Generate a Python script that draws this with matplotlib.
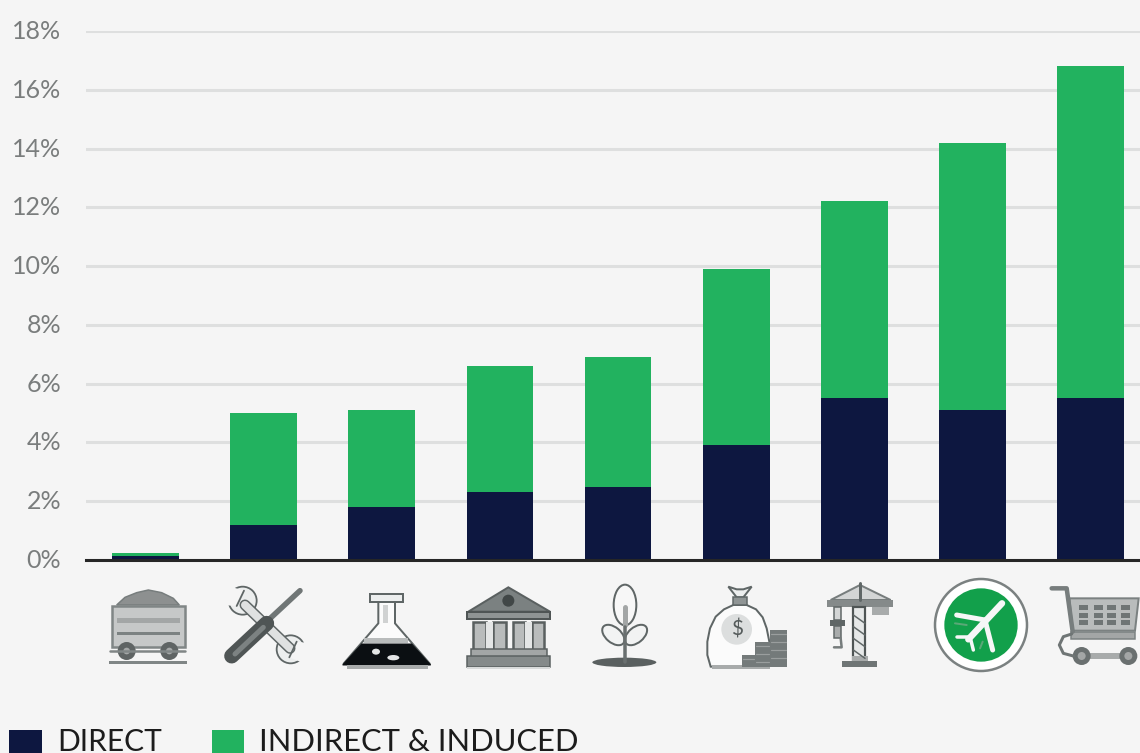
#!/usr/bin/env python3

import matplotlib
matplotlib.use("Agg")
import matplotlib.pyplot as plt
from matplotlib.patches import Circle, Ellipse, Polygon, Rectangle
from matplotlib.transforms import ScaledTranslation

WIDTH = 1140
HEIGHT = 753
BACKGROUND = "#f5f5f5"
NAVY = "#0d1740"
GREEN = "#22b25f"
DARK = "#5f6666"
MID = "#808686"
LIGHT = "#c6c8c8"

positions = [0, 1, 2, 3, 4, 5, 6, 7, 8]
direct = [0.15, 1.2, 1.8, 2.3, 2.5, 3.9, 5.5, 5.1, 5.5]
indirect_induced = [0.1, 3.8, 3.3, 4.3, 4.4, 6.0, 6.7, 9.1, 11.3]
tick_values = [0, 2, 4, 6, 8, 10, 12, 14, 16, 18]
tick_labels = ["0%", "2%", "4%", "6%", "8%", "10%", "12%", "14%", "16%", "18%"]
legend_labels = ["DIRECT", "INDIRECT & INDUCED"]


def zoomed(ox, pts):
    return [(ox + x / 3, 570 + y / 3) for x, y in pts]


def px_lw(px):
    return px * 72 / 100


def poly(ov, ox, pts, fc, ec=DARK, lw=1.5):
    ov.add_patch(Polygon(zoomed(ox, pts), closed=True, fc=fc, ec=ec, lw=px_lw(lw)))


def box(ov, ox, x0, y0, x1, y1, fc, ec="none", lw=1.5):
    poly(ov, ox, [(x0, y0), (x1, y0), (x1, y1), (x0, y1)], fc, ec, lw)


def line(ov, ox, pts, color=DARK, lw=2.0):
    xs, ys = zip(*zoomed(ox, pts))
    ov.plot(xs, ys, color=color, lw=px_lw(lw), solid_capstyle="round", solid_joinstyle="round")


def circle(ov, ox, x, y, r, fc, ec="none", lw=1.5):
    (cx, cy), = zoomed(ox, [(x, y)])
    ov.add_patch(Circle((cx, cy), r / 3, fc=fc, ec=ec, lw=px_lw(lw)))


def ellipse(ov, ox, x, y, w, h, angle, fc, ec=DARK, lw=2.0):
    (cx, cy), = zoomed(ox, [(x, y)])
    ov.add_patch(Ellipse((cx, cy), w / 3, h / 3, angle=angle, fc=fc, ec=ec, lw=px_lw(lw)))


def draw_cart(ov):
    ox = 90
    poly(ov, ox, [(80, 105), (105, 82), (140, 68), (175, 60), (215, 68), (250, 85), (268, 105)], "#8d9090", "#777d7d")
    box(ov, ox, 65, 107, 285, 232, LIGHT, MID, 2.5)
    box(ov, ox, 80, 143, 270, 158, "#a3a6a6")
    box(ov, ox, 80, 186, 270, 195, "#7c8282")
    line(ov, ox, [(60, 243), (285, 243)], MID, 2.5)
    for x in (110, 238):
        circle(ov, ox, x, 243, 27, "#5f6464")
        circle(ov, ox, x, 243, 10, "#a5a8a8")
    box(ov, ox, 58, 272, 290, 283, MID)


def draw_tools(ov):
    ox = 90
    # wrench
    line(ov, ox, [(465, 105), (600, 235)], DARK, 11)
    line(ov, ox, [(465, 105), (600, 235)], "#dfe1e1", 8)
    circle(ov, ox, 458, 92, 42, "#eceeee", DARK, 1.8)
    circle(ov, ox, 602, 238, 42, "#eceeee", DARK, 1.8)
    poly(ov, ox, [(405, 45), (462, 62), (440, 108), (395, 105)], BACKGROUND, "none")
    poly(ov, ox, [(655, 285), (598, 262), (620, 215), (665, 220)], BACKGROUND, "none")
    line(ov, ox, [(462, 62), (440, 108)], DARK, 1.8)
    line(ov, ox, [(598, 262), (620, 215)], DARK, 1.8)
    # screwdriver
    line(ov, ox, [(630, 62), (530, 155)], "#707676", 5.5)
    line(ov, ox, [(530, 160), (425, 258)], "#4f5555", 15)
    line(ov, ox, [(520, 172), (435, 252)], "#7c8282", 5)


def draw_flask(ov):
    ox = 90
    poly(ov, ox, [(865, 95), (915, 95), (915, 160), (1020, 282), (760, 282), (865, 160)], "#fbfbfb", DARK, 2)
    box(ov, ox, 840, 72, 940, 96, "#eceeee", DARK, 2)
    box(ov, ox, 880, 105, 895, 160, "#d0d2d2")
    box(ov, ox, 822, 205, 955, 220, "#b9bcbc")
    poly(ov, ox, [(815, 222), (965, 222), (1022, 285), (758, 285)], "#0b0f12", "#0b0f12", 1)
    box(ov, ox, 770, 285, 1015, 298, "#a8abab")
    ellipse(ov, ox, 858, 245, 24, 18, 0, "#e4e6e6", "none")
    ellipse(ov, ox, 910, 263, 36, 16, 0, "#e4e6e6", "none")


def draw_bank(ov):
    ox = 450
    poly(ov, ox, [(55, 125), (175, 52), (300, 125)], "#7b8181", "#5a6060", 2)
    circle(ov, ox, 175, 92, 18, "#414747")
    box(ov, ox, 52, 125, 300, 148, "#8f9494", "#4f5555", 2)
    for x in (70, 130, 188, 245):
        box(ov, ox, x, 155, x + 38, 240, "#b9bcbc", "#5a6060", 2.5)
    box(ov, ox, 108, 155, 130, 240, "#e4e6e6")
    box(ov, ox, 226, 155, 245, 240, "#e4e6e6")
    box(ov, ox, 62, 238, 292, 260, "#a3a6a6", "#5a6060", 1.5)
    box(ov, ox, 52, 258, 300, 290, "#858a8a", "#5a6060", 1.5)
    box(ov, ox, 52, 290, 300, 298, "#d8dada")


def draw_plant(ov):
    ox = 450
    ellipse(ov, ox, 490, 195, 78, 46, 40, "#f2f3f3")
    ellipse(ov, ox, 558, 195, 78, 46, -40, "#f2f3f3")
    ellipse(ov, ox, 525, 105, 68, 122, 0, "#f7f7f7")
    line(ov, ox, [(525, 110), (525, 165)], "#a3a6a6", 5)
    line(ov, ox, [(525, 170), (525, 275)], "#6a7070", 3.5)
    ellipse(ov, ox, 523, 277, 192, 28, 0, "#5a6060", "none")


def draw_money(ov):
    ox = 450
    poly(ov, ox, [(782, 290), (772, 255), (772, 215), (780, 175), (797, 140), (822, 118), (850, 105),
                  (890, 105), (918, 118), (938, 142), (950, 175), (958, 215), (962, 288)],
         "#fbfbfb", DARK, 2)
    box(ov, ox, 785, 285, 960, 297, "#a8abab")
    poly(ov, ox, [(835, 50), (860, 58), (880, 58), (905, 50), (880, 82), (860, 82)], "#eceeee", DARK, 2)
    box(ov, ox, 848, 82, 892, 106, "#8f9494", DARK, 1.5)
    circle(ov, ox, 860, 178, 46, "#dcdede")
    cx, cy = zoomed(ox, [(860, 178)])[0]
    ov.text(cx, cy, "$", color="#555b5b", fontsize=15, ha="center", va="center", family="Lato")
    for x0, y0, x1 in ((875, 255, 915), (915, 215, 960), (960, 180, 1012)):
        box(ov, ox, x0, y0, x1, 290, "#747a7a")
        y = y0 + 12
        while y < 285:
            line(ov, ox, [(x0 + 4, y), (x1 - 4, y)], "#9a9e9e", 1.2)
            y += 24


def draw_crane(ov):
    ox = 800
    poly(ov, ox, [(180, 45), (92, 90), (272, 90)], "#d3d5d5", "#777d7d", 2)
    line(ov, ox, [(180, 40), (180, 90)], "#5f6666", 3)
    box(ov, ox, 82, 90, 280, 110, "#858a8a")
    box(ov, ox, 215, 110, 268, 136, "#a8abab")
    box(ov, ox, 160, 110, 195, 270, "#e6e8e8", "#4f5555", 2.2)
    for y in (135, 170, 205, 240):
        line(ov, ox, [(160, y), (195, y + 25)], "#5f6666", 1.5)
    box(ov, ox, 103, 110, 124, 150, "#d3d5d5", "#5f6666", 1.5)
    box(ov, ox, 90, 150, 136, 168, "#5f6666")
    box(ov, ox, 103, 168, 124, 205, "#a8abab", "#5f6666", 1.5)
    line(ov, ox, [(122, 205), (125, 232), (102, 232)], "#777d7d", 2.5)
    box(ov, ox, 155, 258, 205, 274, "#a8abab")
    box(ov, ox, 125, 274, 232, 291, "#6f7575")


def draw_plane(ov):
    ox = 800
    circle(ov, ox, 543, 165, 138, "#ffffff", "#7b8181", 2.5)
    circle(ov, ox, 543, 165, 110, "#12a04b")
    white = "#f6f7f7"
    line(ov, ox, [(555, 150), (470, 135)], white, 5)
    line(ov, ox, [(555, 150), (578, 240)], white, 5)
    line(ov, ox, [(510, 200), (472, 200)], white, 3.5)
    line(ov, ox, [(510, 200), (520, 240)], white, 3.5)
    line(ov, ox, [(606, 100), (505, 208)], white, 6.5)
    line(ov, ox, [(465, 160), (500, 165)], "#5aa877", 2)
    line(ov, ox, [(540, 235), (548, 215)], "#5aa877", 2)


def draw_basket(ov):
    ox = 800
    line(ov, ox, [(755, 55), (800, 55), (818, 185)], "#777d7d", 4.5)
    poly(ov, ox, [(808, 85), (1016, 85), (1005, 182), (818, 182)], "#b9bcbc", "#7b8181", 2)
    for x in (850, 895, 935, 976):
        for y in (114, 136, 158):
            box(ov, ox, x - 13, y - 8, x + 13, y + 7, "#6f7575")
    box(ov, ox, 812, 185, 1005, 207, "#a3a6a6", "#7b8181", 1.5)
    line(ov, ox, [(815, 192), (790, 200), (778, 225), (790, 250), (820, 258)], "#6f7575", 3)
    box(ov, ox, 845, 248, 985, 268, "#a8abab")
    for x in (845, 985):
        circle(ov, ox, x, 258, 27, "#6a7070")
        circle(ov, ox, x, 258, 12, "#a3a6a6")


def draw_legend(ov):
    ov.add_patch(Rectangle((9, 730), 33, 30, fc=NAVY, ec="none"))
    ov.add_patch(Rectangle((212, 730), 32, 30, fc=GREEN, ec="none"))
    ov.text(57, 751, legend_labels[0], fontsize=21.5, color="#1c1c1c", family="Lato", va="baseline", ha="left")
    ov.text(259, 751, legend_labels[1], fontsize=22.2, color="#1c1c1c", family="Lato", va="baseline", ha="left")


def create_plot():
    fig = plt.figure(figsize=(WIDTH / 100, HEIGHT / 100), dpi=100, facecolor=BACKGROUND)

    left = 86 / WIDTH
    bottom = 1 - 560 / HEIGHT
    ax = fig.add_axes([left, bottom, 1 - left, (560 - 31) / HEIGHT], facecolor=BACKGROUND)

    ax.bar(positions, direct, width=0.565, color=NAVY, zorder=3)
    ax.bar(positions, indirect_induced, bottom=direct, width=0.565, color=GREEN, zorder=3)

    ax.set_xlim(-0.503, 8.417)
    ax.set_ylim(0, 18)
    ax.set_xticks([])
    ax.set_yticks(tick_values)
    ax.set_yticklabels(tick_labels, fontsize=18, color="#7a7d7d", family="Lato")
    ax.tick_params(axis="y", length=0, pad=18)
    ax.yaxis.grid(True, color="#dedfdf", lw=2.2, zorder=1)
    ax.set_axisbelow(True)

    nudge = ScaledTranslation(0, 1.5 / 100, fig.dpi_scale_trans)
    for label in ax.get_yticklabels():
        label.set_transform(label.get_transform() + nudge)

    for name in ("top", "right", "left"):
        ax.spines[name].set_visible(False)
    ax.spines["bottom"].set_color("#262626")
    ax.spines["bottom"].set_linewidth(2.2)
    ax.spines["bottom"].set_zorder(4)

    # full figure overlay in pixels for the icons and the legend
    ov = fig.add_axes([0, 0, 1, 1], facecolor="none")
    ov.set_xlim(0, WIDTH)
    ov.set_ylim(HEIGHT, 0)
    ov.axis("off")

    draw_cart(ov)
    draw_tools(ov)
    draw_flask(ov)
    draw_bank(ov)
    draw_plant(ov)
    draw_money(ov)
    draw_crane(ov)
    draw_plane(ov)
    draw_basket(ov)
    draw_legend(ov)

    fig.savefig("out.png", dpi=100, facecolor=BACKGROUND)


if __name__ == "__main__":
    create_plot()
